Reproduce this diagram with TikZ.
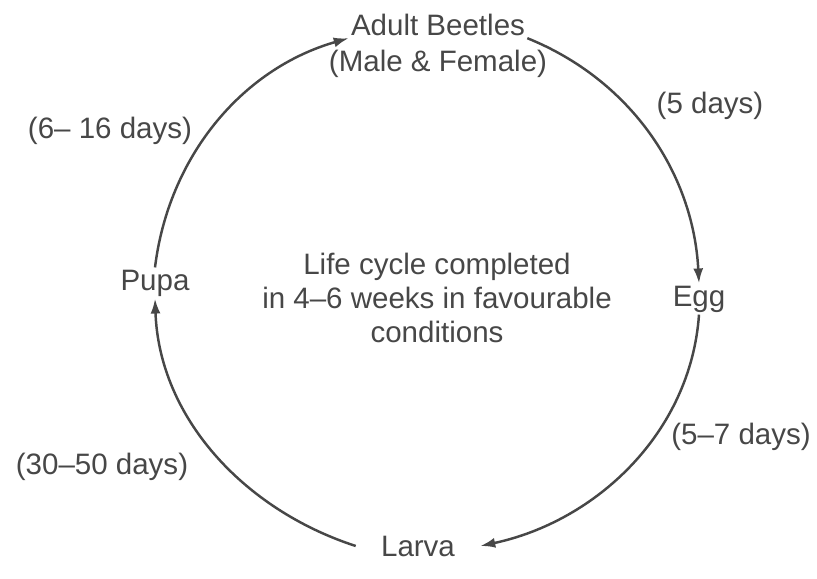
\documentclass[tikz,border=0pt]{standalone}
\usepackage{fontspec}
\setmainfont{Liberation Sans}
\usetikzlibrary{arrows.meta, positioning}

\begin{document}
\begin{tikzpicture}[
    x=0.02cm, y=0.02cm,
    stage/.style={font=\fontsize{16.8}{19.4}\selectfont, text=black!72,
                  inner sep=0.04cm},
    period/.style={font=\fontsize{16.8}{19.4}\selectfont, text=black!72},
    cycle/.style={draw=black!72, line width=1.4pt, looseness=0.95,
                  -{Latex[length=0.3cm, width=0.2cm]}}
]
  \useasboundingbox (0,0) rectangle (817,578);

  % stages round the circle
  \node[stage] (adult) at (438,553) {Adult Beetles};
  \node[stage] (sex) at (438,514) {(Male \& Female)};
  \node[stage] (egg) at (699,279) {Egg};
  \node[stage, inner xsep=0.5cm] (larva) at (418,32) {Larva};
  \node[stage] (pupa) at (155,295) {Pupa};
  \node[stage, align=center] (note) at (437,280)
       {Life cycle completed\\in 4--6 weeks in favourable\\conditions};

  % durations
  \foreach \t/\x/\y/\n in {(5 days)/710/472/egg, (5--7 days)/741/141/larva,
                           (30--50 days)/102/111/pupa, (6-- 16 days)/110/447/adult}
    \node[period] (d-\n) at (\x,\y) {\t};

  \draw[cycle] (pupa.north) to[out=83, in=196] (adult.south west);
  \draw[cycle] (adult.south east) to[out=-22, in=93] (egg.north);
  \draw[cycle] (egg.south) to[out=-94, in=12] (larva.east);
  \draw[cycle] (larva.west) to[out=162, in=-88] (pupa.south);
\end{tikzpicture}
\end{document}
